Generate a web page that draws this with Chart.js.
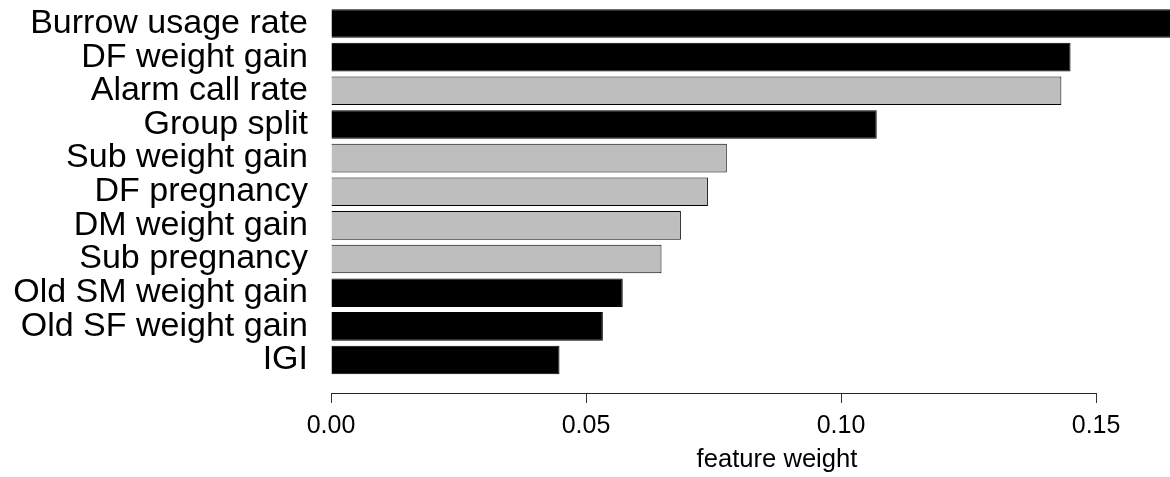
<!DOCTYPE html>
<html>
<head>
<meta charset="utf-8">
<script src="https://cdn.jsdelivr.net/npm/chart.js@4.4.1/dist/chart.umd.min.js"></script>
<style>
  html, body { margin: 0; padding: 0; background: #ffffff; overflow: hidden; }
  #wrap { width: 1170px; height: 477px; position: relative; overflow: hidden; }
  #c { display: block; }
</style>
</head>
<body>
<div id="wrap"><canvas id="c" width="1246" height="477"></canvas></div>
<script>
// Features, top to bottom, with their weights
const features = [
  'Burrow usage rate', 'DF weight gain', 'Alarm call rate', 'Group split',
  'Sub weight gain', 'DF pregnancy', 'DM weight gain', 'Sub pregnancy',
  'Old SM weight gain', 'Old SF weight gain', 'IGI'
];
const weights = [0.170, 0.1450, 0.1432, 0.1070, 0.0776, 0.0739, 0.0686, 0.0648, 0.0572, 0.0533, 0.0448];
const groups = ['dark', 'dark', 'light', 'dark', 'light', 'light', 'light', 'light', 'dark', 'dark', 'dark'];

// Axis ticks
const tickValues = [0, 0.05, 0.10, 0.15];
const tickLabels = ['0.00', '0.05', '0.10', '0.15'];
const xTitle = 'feature weight';

const fills = { dark: '#000000', light: '#BEBEBE' };
const FONT = '"Liberation Sans", Arial, Helvetica, sans-serif';

// Axis line that spans only the first to the last tick
const axisLine = {
  id: 'axisLine',
  afterDraw(chart) {
    const xs = chart.scales.x;
    const ctx = chart.ctx;
    const x0 = xs.getPixelForValue(tickValues[0]);
    const x1 = xs.getPixelForValue(tickValues[tickValues.length - 1]);
    const y = Math.round(xs.top) + 0.5;
    ctx.save();
    ctx.strokeStyle = '#222222';
    ctx.lineWidth = 1;
    ctx.beginPath();
    ctx.moveTo(Math.round(x0) + 0.5, y);
    ctx.lineTo(Math.round(x1) + 0.5, y);
    ctx.stroke();
    ctx.restore();
  }
};

new Chart(document.getElementById('c'), {
  type: 'bar',
  data: {
    datasets: [{
      data: weights.map((w, i) => ({ x: w, y: i })),
      backgroundColor: groups.map(g => fills[g]),
      borderColor: '#000000',
      borderWidth: 1,
      categoryPercentage: 1.0,
      barPercentage: 0.85
    }]
  },
  options: {
    indexAxis: 'y',
    responsive: false,
    animation: false,
    devicePixelRatio: 1,
    layout: { padding: 0 },
    plugins: { legend: { display: false }, tooltip: { enabled: false } },
    scales: {
      x: {
        type: 'linear',
        position: 'bottom',
        min: -0.00451,
        max: 0.1794,
        afterBuildTicks(scale) { scale.ticks = tickValues.map(v => ({ value: v })); },
        afterFit(scale) { scale.height = 84; scale.paddingLeft = 0; scale.paddingRight = 0; },
        border: { display: false },
        grid: { drawOnChartArea: false, drawTicks: true, tickLength: 10, color: '#333333', lineWidth: 1 },
        ticks: {
          padding: 8,
          maxRotation: 0,
          autoSkip: false,
          color: '#000000',
          font: { family: FONT, size: 25 },
          callback(v) { const k = tickValues.indexOf(v); return k >= 0 ? tickLabels[k] : ''; }
        },
        title: {
          display: true,
          text: xTitle,
          color: '#000000',
          font: { family: FONT, size: 25.6 },
          padding: { top: 0, bottom: 2 }
        }
      },
      y: {
        type: 'linear',
        reverse: true,
        offset: false,
        min: -0.698,
        max: 10.981,
        afterBuildTicks(scale) { scale.ticks = features.map((_, i) => ({ value: i })); },
        afterFit(scale) { scale.width = 308; scale.paddingTop = 0; scale.paddingBottom = 0; },
        border: { display: false },
        grid: { display: false, drawTicks: false, offset: false },
        ticks: {
          padding: 0,
          autoSkip: false,
          color: '#000000',
          font: { family: FONT, size: 34, lineHeight: 0.05 },
          callback(v) { return features[v] !== undefined ? features[v] : ''; }
        }
      }
    }
  },
  plugins: [axisLine]
});
</script>
</body>
</html>
